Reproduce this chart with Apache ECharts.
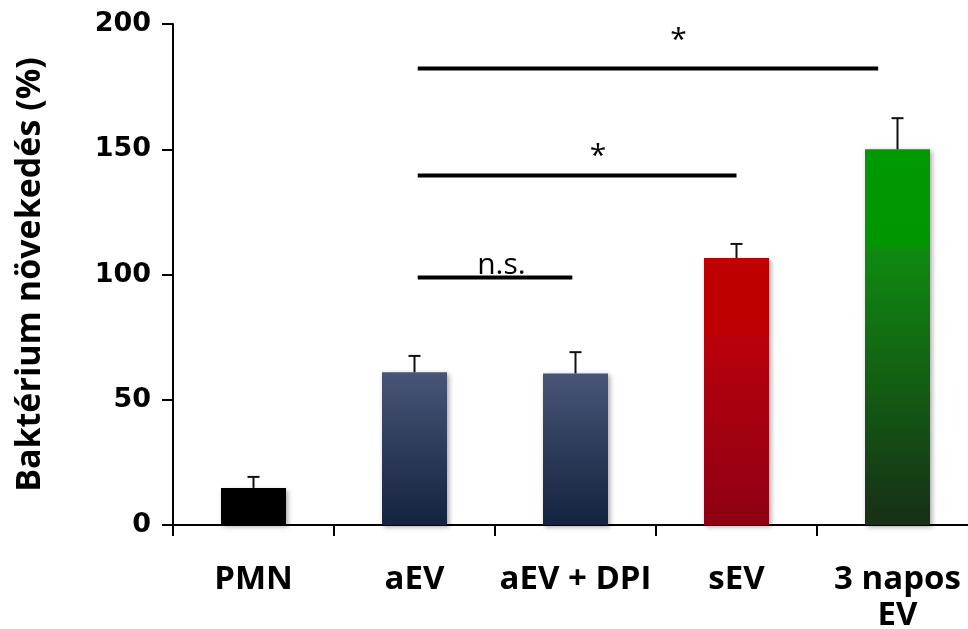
<!DOCTYPE html>
<html>
<head>
<meta charset="utf-8">
<script src="https://cdn.jsdelivr.net/npm/echarts@6/dist/echarts.min.js"></script>
<style>
  html, body { margin: 0; padding: 0; background: #fff; }
  #chart { width: 968px; height: 629px; }
</style>
</head>
<body>
<div id="chart"></div>
<script>
// Groups and measured growth (%), with the upper end of each error bar
const categories = ['PMN', 'aEV', 'aEV + DPI', 'sEV', '3 napos\nEV'];
const means = [14.8, 61, 60.5, 106.6, 150];
const errTops = [19.2, 67.5, 69, 112.2, 162.4];
const yTicks = [0, 50, 100, 150, 200];

// Significance brackets (x in category units, y in %)
const sigFrom = [1.02, 1.02, 1.02];
const sigTo = [3.88, 3.0, 1.98];
const sigY = [182.2, 139.5, 98.8];
const sigText = ['*', '*', 'n.s.'];
const sigTextX = [2.64, 2.14, 1.54];
const sigTextY = [193.5, 147.2, 103.6];

const G = echarts.graphic.LinearGradient;
const barColors = [
  '#000000',
  new G(0, 0, 0, 1, [{ offset: 0, color: '#485577' }, { offset: 1, color: '#14233f' }]),
  new G(0, 0, 0, 1, [{ offset: 0, color: '#485577' }, { offset: 1, color: '#14233f' }]),
  new G(0, 0, 0, 1, [{ offset: 0, color: '#c00000' }, { offset: 0.28, color: '#bf0000' }, { offset: 0.3, color: '#b8000c' }, { offset: 1, color: '#8e0014' }]),
  new G(0, 0, 0, 1, [{ offset: 0, color: '#009900' }, { offset: 0.25, color: '#009600' }, { offset: 0.27, color: '#0f8a0f' }, { offset: 1, color: '#172f17' }])
];

const chart = echarts.init(document.getElementById('chart'), null, { renderer: 'canvas' });

chart.setOption({
  animation: false,
  backgroundColor: '#ffffff',
  grid: { left: 173, top: 24, width: 805, bottom: 104, containLabel: false, outerBoundsMode: 'none' },
  xAxis: [
    {
      type: 'category',
      data: categories,
      boundaryGap: true,
      axisLine: { lineStyle: { color: '#000', width: 2 } },
      axisTick: { show: true, inside: false, length: 11, lineStyle: { color: '#000', width: 2 } },
      axisLabel: {
        interval: 0,
        margin: 37,
        color: '#000',
        fontFamily: 'Open Sans',
        fontWeight: 'bold',
        fontSize: 33,
        lineHeight: 36,
        verticalAlign: 'top'
      },
      splitLine: { show: false }
    },
    {
      type: 'value',
      min: -0.5,
      max: 4.5,
      show: false
    }
  ],
  yAxis: {
    type: 'value',
    min: 0,
    max: 200,
    interval: 50,
    name: 'Baktérium növekedés (%)',
    nameLocation: 'middle',
    nameGap: 126,
    nameTextStyle: { color: '#000', fontFamily: 'Open Sans', fontWeight: 'bold', fontSize: 34 },
    axisLine: { show: true, onZero: false, lineStyle: { color: '#000', width: 2 } },
    axisTick: { show: true, inside: false, length: 11, lineStyle: { color: '#000', width: 2 } },
    axisLabel: {
      margin: 22,
      color: '#000',
      fontFamily: 'DejaVu Sans',
      fontWeight: 'bold',
      fontSize: 27,
      formatter: v => (yTicks.includes(v) ? String(v) : '')
    },
    splitLine: { show: false }
  },
  series: [
    {
      type: 'bar',
      xAxisIndex: 0,
      barWidth: 65,
      data: means.map((v, i) => ({
        value: v,
        itemStyle: {
          color: barColors[i],
          shadowBlur: 5,
          shadowOffsetX: 2,
          shadowOffsetY: 2,
          shadowColor: 'rgba(0,0,0,0.35)'
        }
      })),
      z: 2
    },
    {
      // upper error bars
      type: 'custom',
      xAxisIndex: 0,
      data: means.map((m, i) => [i, m, errTops[i]]),
      renderItem: (params, api) => {
        const base = api.coord([api.value(0), api.value(1)]);
        const top = api.coord([api.value(0), api.value(2)]);
        const half = 6;
        return {
          type: 'group',
          children: [
            { type: 'line', shape: { x1: top[0], y1: base[1], x2: top[0], y2: top[1] }, style: { stroke: '#111', lineWidth: 2 } },
            { type: 'line', shape: { x1: top[0] - half, y1: top[1], x2: top[0] + half, y2: top[1] }, style: { stroke: '#111', lineWidth: 2 } }
          ]
        };
      },
      z: 3
    },
    {
      // significance brackets and their labels
      type: 'custom',
      xAxisIndex: 1,
      data: sigY.map((y, i) => [sigFrom[i], sigTo[i], y, sigTextX[i], sigTextY[i], i]),
      renderItem: (params, api) => {
        const a = api.coord([api.value(0), api.value(2)]);
        const b = api.coord([api.value(1), api.value(2)]);
        const t = api.coord([api.value(3), api.value(4)]);
        const txt = sigText[api.value(5)];
        return {
          type: 'group',
          children: [
            { type: 'line', shape: { x1: a[0], y1: a[1], x2: b[0], y2: b[1] }, style: { stroke: '#000', lineWidth: 4 } },
            {
              type: 'text',
              x: t[0],
              y: t[1],
              style: {
                text: txt,
                align: 'center',
                verticalAlign: 'middle',
                fill: '#000',
                fontFamily: 'Open Sans',
                fontSize: 30
              }
            }
          ]
        };
      },
      z: 4
    }
  ]
});
</script>
</body>
</html>
